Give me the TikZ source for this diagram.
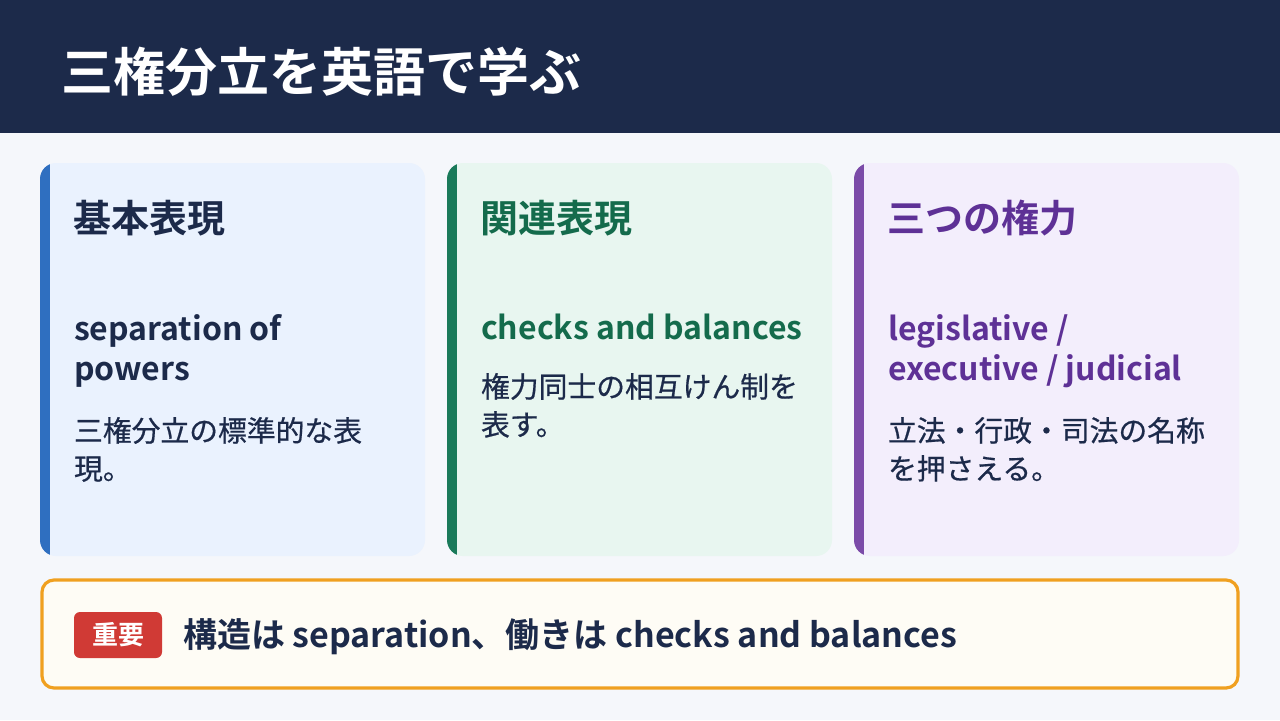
\documentclass[tikz,border=0pt]{standalone}
\usepackage{fontspec}
\setmainfont{Noto Sans CJK JP}[BoldFont={Noto Sans CJK JP Bold}]
\newfontfamily\glossfont{Noto Sans CJK JP}[FakeBold=0.6]
\definecolor{navy}{HTML}{1C2A4A}
\definecolor{pagebg}{HTML}{F5F7FB}
\definecolor{blueline}{HTML}{2F6FC0}\definecolor{bluefill}{HTML}{EAF2FE}
\definecolor{greenline}{HTML}{1A7A5A}\definecolor{greenfill}{HTML}{E8F6F0}
\definecolor{purpleline}{HTML}{7B4BA8}\definecolor{purplefill}{HTML}{F3EEFC}
\definecolor{greentext}{HTML}{146B4C}\definecolor{purpletext}{HTML}{5E3196}
\definecolor{orangeline}{HTML}{F0A020}\definecolor{notefill}{HTML}{FEFCF5}
\definecolor{badgered}{HTML}{D03A35}
\tikzset{
  heading/.style={anchor=west, font=\bfseries\fontsize{19}{22}\selectfont},
  term/.style={anchor=north west, align=left, font=\bfseries\fontsize{16}{20}\selectfont},
  gloss/.style={anchor=north west, align=left, text=navy, font=\glossfont\fontsize{14.4}{19}\selectfont},
}
\newcommand{\card}[3]{%
  \fill[#2, rounded corners=8pt] (#1,163) rectangle ++(385,393);
  \begin{scope}
    \clip[rounded corners=8pt] (#1,163) rectangle ++(385,393);
    \fill[#3] (#1,163) rectangle ++(10,393);
  \end{scope}}
\begin{document}
\begin{tikzpicture}[x=0.5pt,y=-0.5pt]
\useasboundingbox (0,0) rectangle (1280,720);
\fill[pagebg] (0,0) rectangle (1280,720);
\fill[navy] (0,0) rectangle (1280,133);
\node[anchor=west, text=white, font=\bfseries\fontsize{26}{30}\selectfont] (title) at (54,72) {三権分立を英語で学ぶ};

% cards
\card{40}{bluefill}{blueline}
\card{447}{greenfill}{greenline}
\card{854}{purplefill}{purpleline}

\node[heading, text=navy] (h1) at (66,218) {基本表現};
\node[term, text=navy] (t1) at (67,307) {separation of\\powers};
\node[gloss] (g1) at (67,410) {三権分立の標準的な表\\現。};

\node[heading, text=greentext] (h2) at (473,218) {関連表現};
\node[term, text=greentext] (t2) at (474,307) {checks and balances};
\node[gloss] (g2) at (474,366) {権力同士の相互けん制を\\表す。};

\node[heading, text=purpletext] (h3) at (880,218) {三つの権力};
\node[term, text=purpletext] (t3) at (881,307) {legislative /\\executive / judicial};
\node[gloss] (g3) at (881,410) {立法・行政・司法の名称\\を押さえる。};

% note
\draw[orangeline, line width=1.6pt, fill=notefill, rounded corners=6pt] (42,580) rectangle (1238,688);
\node[fill=badgered, rounded corners=3pt, text=white, minimum width=44pt, minimum height=23pt,
  font=\bfseries\fontsize{13}{15}\selectfont] (badge) at (118,635) {重要};
\node[anchor=west, text=navy, font=\bfseries\fontsize{17}{20}\selectfont] (note) at (176,637)
  {構造は separation、働きは checks and balances};
\end{tikzpicture}
\end{document}
